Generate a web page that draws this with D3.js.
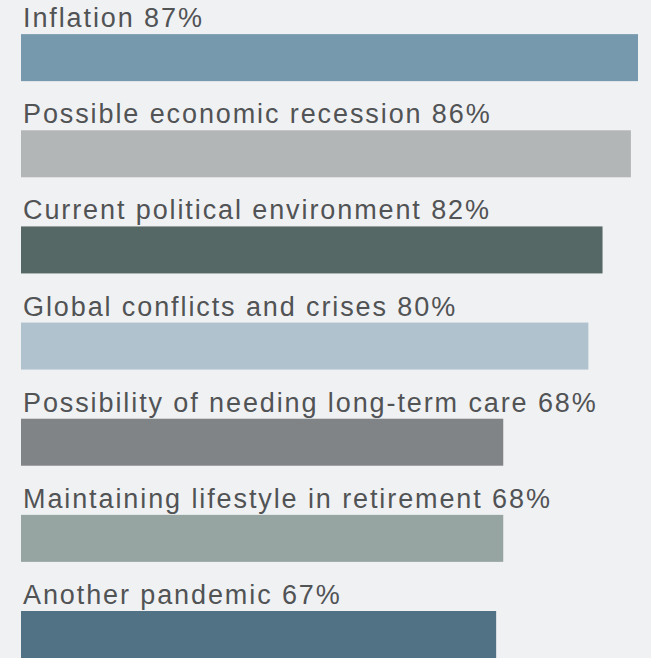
<!DOCTYPE html>
<html lang="en">
<head>
    <meta charset="UTF-8">
    <title>Financial concerns</title>
    <style>
        body { margin: 0; background: #f0f1f3; }
        .bar text {
            font: 27px "Liberation Sans", Arial, sans-serif;
            letter-spacing: 1.9px;
            fill: #515355;
        }
    </style>
</head>
<body>
<svg width="651" height="658"></svg>
</body>
<script src="https://d3js.org/d3.v7.min.js"></script>
<script>

var categories = [
    "Inflation",
    "Possible economic recession",
    "Current political environment",
    "Global conflicts and crises",
    "Possibility of needing long-term care",
    "Maintaining lifestyle in retirement",
    "Another pandemic"
];
var values = [87, 86, 82, 80, 68, 68, 67];
var colors = ["#7799ae", "#b3b6b7", "#566865", "#b0c2ce", "#808486", "#97a5a2", "#517285"];

var svg = d3.select("svg"),
    width = +svg.attr("width"),
    height = +svg.attr("height");

svg.append("rect").attr("width", width).attr("height", height).attr("fill", "#f0f1f3");

var x = d3.scaleLinear()
    .domain([0, 87])
    .range([21, 638]);

// each row is label + bar, 96px apart
var y = d3.scaleBand()
    .domain(categories)
    .range([34 - 49, 658])
    .paddingInner(0)
    .paddingOuter(0);

var barH = 47;

var row = svg.selectAll(".bar")
    .data(categories)
    .enter().append("g")
    .attr("class", "bar")
    .attr("transform", function(d) { return "translate(0," + (y(d) + y.bandwidth() - barH) + ")"; });

row.append("rect")
    .attr("x", x(0))
    .attr("y", 0)
    .attr("width", function(d, i) { return x(values[i]) - x(0); })
    .attr("height", barH)
    .attr("fill", function(d, i) { return colors[i]; });

row.append("text")
    .attr("x", 23)
    .attr("y", -7)
    .text(function(d, i) { return d + " " + values[i] + "%"; });

</script>
</html>
